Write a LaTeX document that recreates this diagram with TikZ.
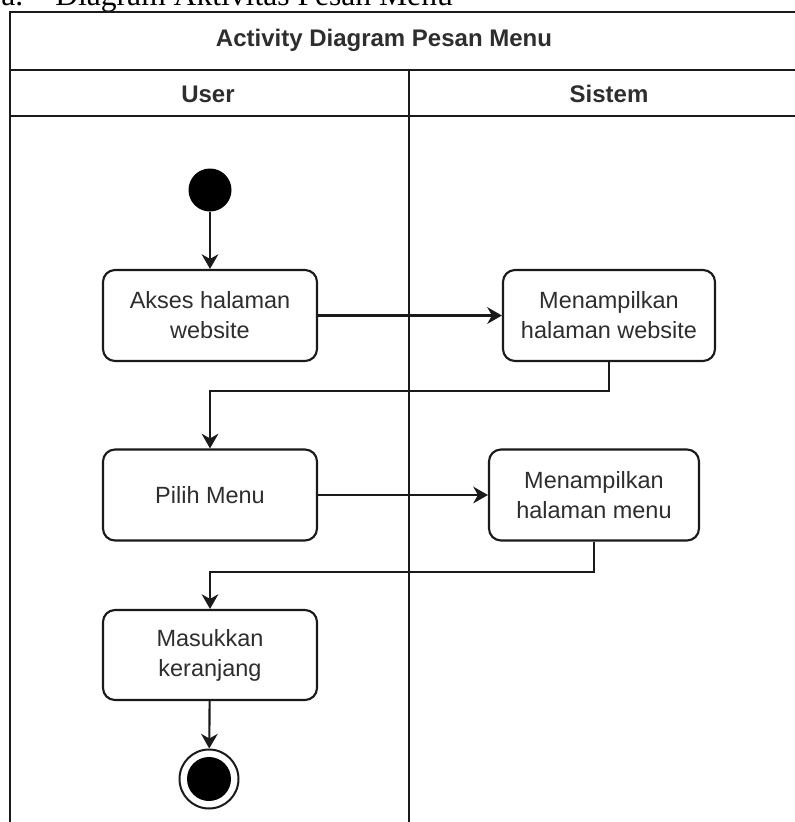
\documentclass[tikz,border=0pt]{standalone}
\usepackage{fontspec}
\setmainfont{Liberation Sans}
\newfontfamily\capfont{Liberation Serif}
\usetikzlibrary{arrows.meta}
\definecolor{txt}{HTML}{2E2E2E}
\definecolor{ln}{HTML}{1A1A1A}
\begin{document}
\begin{tikzpicture}[x=0.75pt,y=-0.75pt,
  lane/.style={draw=ln, line width=1.8pt},
  act/.style={draw=ln, line width=1.6pt, rounded corners=9pt, fill=white, align=center,
    text=txt, font=\fontsize{17.6}{22.5}\selectfont, minimum height=68.25pt, inner sep=0pt},
  hdr/.style={text=txt, font=\bfseries\fontsize{18}{20}\selectfont, anchor=base, inner sep=0pt},
  flow/.style={draw=ln, line width=1.6pt, -{Stealth[length=11pt,width=12.5pt,inset=3.5pt]}},
  captext/.style={anchor=base west, inner sep=0pt, font=\capfont\fontsize{23.7}{28}\selectfont}]
\useasboundingbox (0,0) rectangle (795,822);
\fill[white] (0,0) rectangle (795,822);
\clip (0,0) rectangle (795,822);
% caption (cut at top, as in the reference)
\node[captext] (capa) at (1,5) {a.};
\node[captext] (capb) at (55,5) {Diagram Aktivitas Pesan Menu};
% swimlane frame
\draw[lane] (10,822) -- (10,12) -- (800,12);
\draw[lane] (10,70) -- (800,70);
\draw[lane] (10,116) -- (800,116);
\draw[lane] (409,70) -- (409,822);
\node[hdr] (title) at (384,46) {Activity Diagram Pesan Menu};
\node[hdr] (user) at (208,102) {User};
\node[hdr] (sistem) at (609,102) {Sistem};
% activities
\node[circle, fill=black, minimum size=32.25pt, inner sep=0pt] (s) at (210,190) {};
\node[act, minimum width=160.5pt] (n1) at (210,315.5) {Akses halaman\\website};
\node[act, minimum width=159pt] (n2) at (609,315.5) {Menampilkan\\halaman website};
\node[act, minimum width=160.5pt] (n3) at (210,495) {Pilih Menu};
\node[act, minimum width=157.5pt] (n4) at (594,495) {Menampilkan\\halaman menu};
\node[act, minimum width=160.5pt, minimum height=67.5pt] (n5) at (210,655) {Masukkan\\keranjang};
\node[circle, draw=ln, line width=1.5pt, minimum size=44.25pt, inner sep=0pt] (e) at (209,779) {};
\node[circle, fill=black, minimum size=33pt, inner sep=0pt] (ein) at (e.center) {};
% flows
\draw[flow] (s) -- (n1);
\draw[flow] (n1) -- (n2);
\draw[flow] (n2.south) -- ++(0,29) -| (n3.north);
\draw[flow] (n3) -- (n4);
\draw[flow] (n4.south) -- ++(0,30) -| (n5.north);
\draw[flow] (n5) -- (e);
\end{tikzpicture}
\end{document}
